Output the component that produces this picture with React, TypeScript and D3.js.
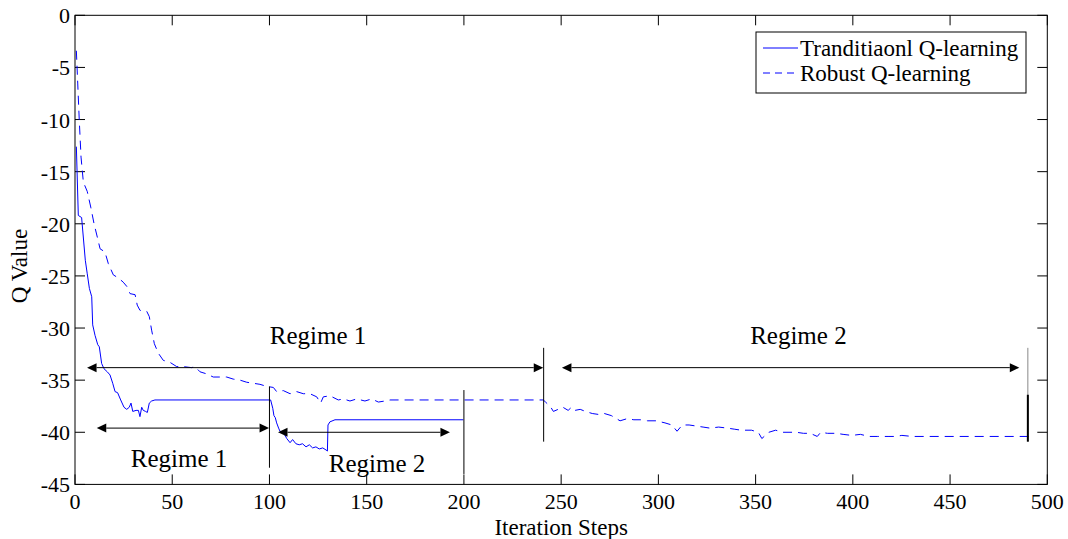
import React from 'react';
import * as d3 from 'd3';

// ---- Data ----
const xTicks = [0, 50, 100, 150, 200, 250, 300, 350, 400, 450, 500];
const yTicks = [0, -5, -10, -15, -20, -25, -30, -35, -40, -45];

const tradSteps = [0.7, 1.7, 3.4, 5.3, 6.3, 7.4, 8.6, 9.1, 10.3, 11.7, 12.5, 13.7, 14.9, 16.6, 18, 19.4, 20.6, 21.9, 23.5, 25.2, 26.6, 27.9, 28.8, 29.7, 31.4, 32.6, 33.4, 34.3, 35.1, 36.3, 37.2, 38.2, 39.4, 41.1, 100.3, 100.6, 101.7, 102.3, 103, 103.7, 104.7, 105.4, 107.1, 108.9, 110.6, 111.9, 113.6, 115.3, 117, 118.8, 120.5, 122.2, 123.9, 125.6, 127.4, 129.1, 129.8, 130.1, 131.1, 133.7, 199.7];
const tradValues = [-12.6, -19.2, -19.4, -23.5, -24.8, -26.2, -27.0, -29.7, -30.7, -31.6, -31.8, -33.4, -33.9, -34.2, -34.5, -35.3, -36.1, -36.2, -36.9, -37.6, -37.8, -37.6, -37.2, -38.0, -37.9, -37.9, -38.5, -37.6, -37.9, -38.0, -38.1, -37.2, -37.0, -36.9, -36.9, -36.9, -37.7, -38.4, -38.6, -39.1, -39.6, -39.9, -40.0, -40.6, -41.0, -40.7, -41.1, -41.2, -41.1, -41.4, -41.2, -41.5, -41.4, -41.6, -41.5, -41.7, -41.8, -39.3, -39.0, -38.8, -38.8];

const robSteps = [0.7, 1.4, 2.2, 3.1, 4.3, 6.3, 8.1, 9.8, 11.5, 12.9, 15.4, 17.1, 19.7, 22.3, 24.8, 26.6, 28.3, 30.9, 32, 33.4, 36.9, 38.2, 39.4, 40.8, 42.8, 45.4, 48.9, 52.3, 55.7, 60, 61.7, 64.3, 67.7, 71.1, 74.6, 78, 81.4, 84.9, 88.3, 91.7, 95.1, 98.6, 102, 103.7, 107.1, 110.6, 114, 117.4, 120.8, 124.3, 126.3, 127.7, 131.1, 135.4, 138, 141.4, 144.9, 149.1, 152.6, 156, 159.4, 162, 240.8, 242, 244.7, 246, 250.9, 253.6, 255.3, 257.1, 259.8, 262.5, 266, 269.6, 272.2, 275.8, 280.3, 283.8, 287.4, 290.9, 294.5, 298.9, 303.4, 306.9, 309.6, 312.3, 315.8, 319.4, 323, 326.5, 331, 335.4, 339, 342.5, 347.9, 351.4, 353.2, 356.8, 360.3, 363.9, 371, 374.6, 378.1, 381.7, 383.5, 387, 391.5, 395, 399.5, 403.9, 408.4, 412.8, 418.1, 421.7, 425.2, 430.6, 436.9, 491];
const robValues = [-3.4, -6.5, -10.1, -13.6, -16.0, -16.9, -18.4, -20.0, -21.3, -22.4, -22.7, -23.8, -24.9, -25.2, -25.6, -26.0, -26.7, -26.8, -27.8, -28.3, -28.4, -28.9, -30.2, -31.5, -32.4, -33.1, -33.3, -33.7, -33.7, -33.8, -33.7, -34.2, -34.4, -34.7, -34.7, -34.7, -34.9, -35.0, -35.2, -35.3, -35.4, -35.6, -35.7, -36.1, -36.0, -36.3, -36.1, -36.3, -36.3, -36.6, -37.2, -36.6, -36.5, -36.9, -36.8, -37.0, -36.8, -37.0, -36.8, -37.1, -37.0, -36.9, -36.9, -37.1, -37.6, -38.0, -37.6, -37.9, -37.6, -37.9, -37.8, -38.0, -38.2, -38.3, -38.2, -38.4, -38.9, -38.7, -38.8, -38.8, -38.9, -38.9, -39.1, -39.3, -39.9, -39.3, -39.3, -39.4, -39.5, -39.6, -39.5, -39.6, -39.7, -39.8, -39.8, -40.0, -40.6, -40.0, -39.8, -40.0, -40.0, -40.1, -40.1, -40.4, -40.0, -40.1, -40.1, -40.2, -40.3, -40.2, -40.4, -40.4, -40.4, -40.4, -40.3, -40.4, -40.4, -40.4];

// annotation marks, in data coordinates
const markSteps = [100, 200, 241, 490];
const markTops = [-35.6, -35.95, -31.9, -31.9];
const markBottoms = [-43.4, -44.0, -40.9, -40.9];

const arrowFrom = [6.2, 250.4, 11.2, 104.4];
const arrowTo = [240.8, 485.6, 99.8, 192.8];
const arrowLevel = [-33.8, -33.8, -39.6, -40.0];

const regimeLabels = ['Regime 1', 'Regime 2', 'Regime 1', 'Regime 2'];
const regimeSteps = [125, 372, 53.5, 155.3];
const regimeLevels = [-31.5, -31.5, -43.3, -43.85];

const seriesNames = ['Tranditiaonl Q-learning', 'Robust Q-learning'];

const FONT = "'Liberation Serif', 'Times New Roman', Times, 'DejaVu Serif', serif";

export default function App() {
  const W = 1068, H = 539;
  const x = d3.scaleLinear().domain([0, 500]).range([75, 1047.3]);
  const y = d3.scaleLinear().domain([-45, 0]).range([484.4, 15.3]);
  const line = d3.line<[number, number]>().x(d => x(d[0])).y(d => y(d[1]));
  const trad = line(tradSteps.map((s, i) => [s, tradValues[i]] as [number, number])) || '';
  const rob = line(robSteps.map((s, i) => [s, robValues[i]] as [number, number])) || '';
  const x0 = x(0), x1 = x(500), yT = y(0), yB = y(-45);
  const tick = 10;
  const blue = '#0000ff';
  const dash = '9,6';
  const txt = { fontFamily: FONT } as React.CSSProperties;

  return (
    <svg width={W} height={H} style={{ position: 'absolute', left: 0, top: 0, background: '#fff', fontFamily: FONT }}>
      <rect x={0} y={0} width={W} height={H} fill="#fff" />
      {/* ticks */}
      {xTicks.map(t => (
        <g key={'xt' + t}>
          <line x1={x(t)} x2={x(t)} y1={yB} y2={yB - tick} stroke="#000" strokeWidth={1} />
          <line x1={x(t)} x2={x(t)} y1={yT} y2={yT + tick} stroke="#000" strokeWidth={1} />
          <text style={txt} x={x(t)} y={yB + 25} fontSize={22} textAnchor="middle" fill="#000">{t}</text>
        </g>
      ))}
      {yTicks.map(t => (
        <g key={'yt' + t}>
          <line x1={x0} x2={x0 + tick} y1={y(t)} y2={y(t)} stroke="#000" strokeWidth={1} />
          <line x1={x1} x2={x1 - tick} y1={y(t)} y2={y(t)} stroke="#000" strokeWidth={1} />
          <text style={txt} x={x0 - 5} y={y(t) + 8} fontSize={22} textAnchor="end" fill="#000">{t}</text>
        </g>
      ))}
      {/* series */}
      <path d={rob} fill="none" stroke={blue} strokeWidth={1} strokeDasharray={dash} />
      <path d={trad} fill="none" stroke={blue} strokeWidth={1} />
      {/* annotation vertical marks */}
      {markSteps.map((s, i) => (
        <line key={'m' + i} x1={x(s)} x2={x(s)} y1={y(markTops[i])} y2={y(markBottoms[i])}
          stroke={i === 3 ? '#888' : '#000'} strokeWidth={1} />
      ))}
      <line x1={x(markSteps[3])} x2={x(markSteps[3])} y1={y(-36.4)} y2={y(markBottoms[3])} stroke="#000" strokeWidth={2} />
      {/* arrows */}
      {arrowFrom.map((a, i) => {
        const xa = x(a), xb = x(arrowTo[i]), yy = y(arrowLevel[i]);
        const L = 9.5, hw = 4.5;
        return (
          <g key={'a' + i}>
            <line x1={xa + L} x2={xb - L} y1={yy} y2={yy} stroke="#000" strokeWidth={1} />
            <polygon points={`${xa},${yy} ${xa + L},${yy - hw} ${xa + L},${yy + hw}`} fill="#000" />
            <polygon points={`${xb},${yy} ${xb - L},${yy - hw} ${xb - L},${yy + hw}`} fill="#000" />
          </g>
        );
      })}
      {regimeLabels.map((l, i) => (
        <text style={txt} key={'r' + i} x={x(regimeSteps[i])} y={y(regimeLevels[i])} fontSize={25} textAnchor="middle" fill="#000">{l}</text>
      ))}
      {/* frame */}
      <rect x={x0} y={yT} width={x1 - x0} height={yB - yT} fill="none" stroke="#000" strokeWidth={1} />
      {/* axis labels */}
      <text style={txt} x={(x0 + x1) / 2} y={535} fontSize={23} textAnchor="middle" fill="#000">Iteration Steps</text>
      <text style={txt} transform="translate(27,266) rotate(-90)" fontSize={23} textAnchor="middle" fill="#000">Q Value</text>
      {/* legend */}
      <rect x={756} y={32} width={270} height={61} fill="#fff" stroke="#000" strokeWidth={1} />
      <line x1={763} x2={798} y1={48} y2={48} stroke={blue} strokeWidth={1} />
      <text style={txt} x={800} y={56} fontSize={23} fill="#000">{seriesNames[0]}</text>
      <line x1={763} x2={798} y1={73} y2={73} stroke={blue} strokeWidth={1} strokeDasharray="7,5" />
      <text style={txt} x={800} y={81} fontSize={23} fill="#000">{seriesNames[1]}</text>
    </svg>
  );
}
